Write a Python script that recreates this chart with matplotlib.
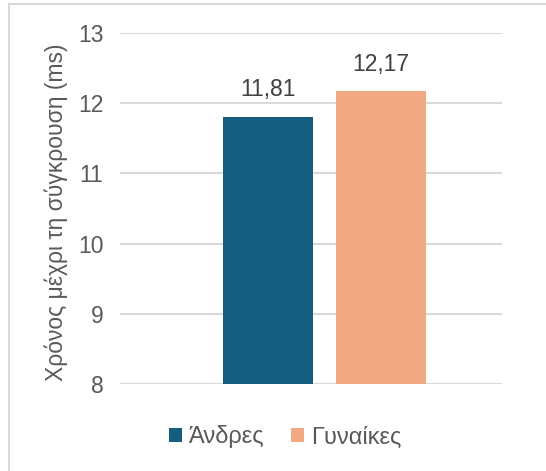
import matplotlib
matplotlib.use('Agg')
import matplotlib.pyplot as plt
from matplotlib.patches import Rectangle

# δεδομένα
series = ['Άνδρες', 'Γυναίκες']
values = [11.81, 12.17]
colors = ['#165E80', '#F2AA84']
yticks = [8, 9, 10, 11, 12, 13]

plt.rcParams['font.family'] = ['Liberation Sans', 'DejaVu Sans']
grey = '#595959'
fs = 16.5

fig = plt.figure(figsize=(5.46, 4.71), dpi=100)
W, H = 546, 471
ax = fig.add_axes([120 / W, 1 - 384 / H, 382 / W, (384 - 33) / H])

xpos = [0.3875, 0.683]
bars = ax.bar(xpos, [v - 8 for v in values], bottom=8, width=0.235,
              color=colors, zorder=2)
for x, v in zip(xpos, values):
    ax.annotate(f'{v:.2f}'.replace('.', ','), (x, v), xytext=(0, 11),
                textcoords='offset points', ha='center', va='bottom',
                fontsize=fs, color='#404040')

ax.set_xlim(0, 1)
ax.set_ylim(8, 13)
ax.set_yticks(yticks)
ax.set_yticklabels([str(t) for t in yticks], fontsize=fs, color=grey)
ax.set_xticks([])
ax.tick_params(axis='y', length=0, pad=12)
ax.grid(axis='y', color='#D9D9D9', linewidth=1.5, zorder=0)
for sp in ax.spines.values():
    sp.set_visible(False)
ax.set_ylabel('Χρόνος μέχρι τη σύγκρουση (ms)', fontsize=fs, color=grey)
ax.yaxis.set_label_coords(-(120 - 68) / 382, 0.49)

leg = fig.legend(handles=bars, labels=series, loc='center', bbox_to_anchor=(285 / W, 1 - 437 / H),
                 ncol=2, frameon=False, fontsize=17, handlelength=0.55, handleheight=0.55,
                 handletextpad=0.3, columnspacing=1.1)
for t in leg.get_texts():
    t.set_color(grey)

# πλαίσιο
fig.patches.append(Rectangle((9 / W, -0.1), 1.2, 1 - 4 / H + 0.1, transform=fig.transFigure,
                             fill=False, edgecolor='#D9D9D9', linewidth=1.5))

fig.savefig('out.png', dpi=100)
